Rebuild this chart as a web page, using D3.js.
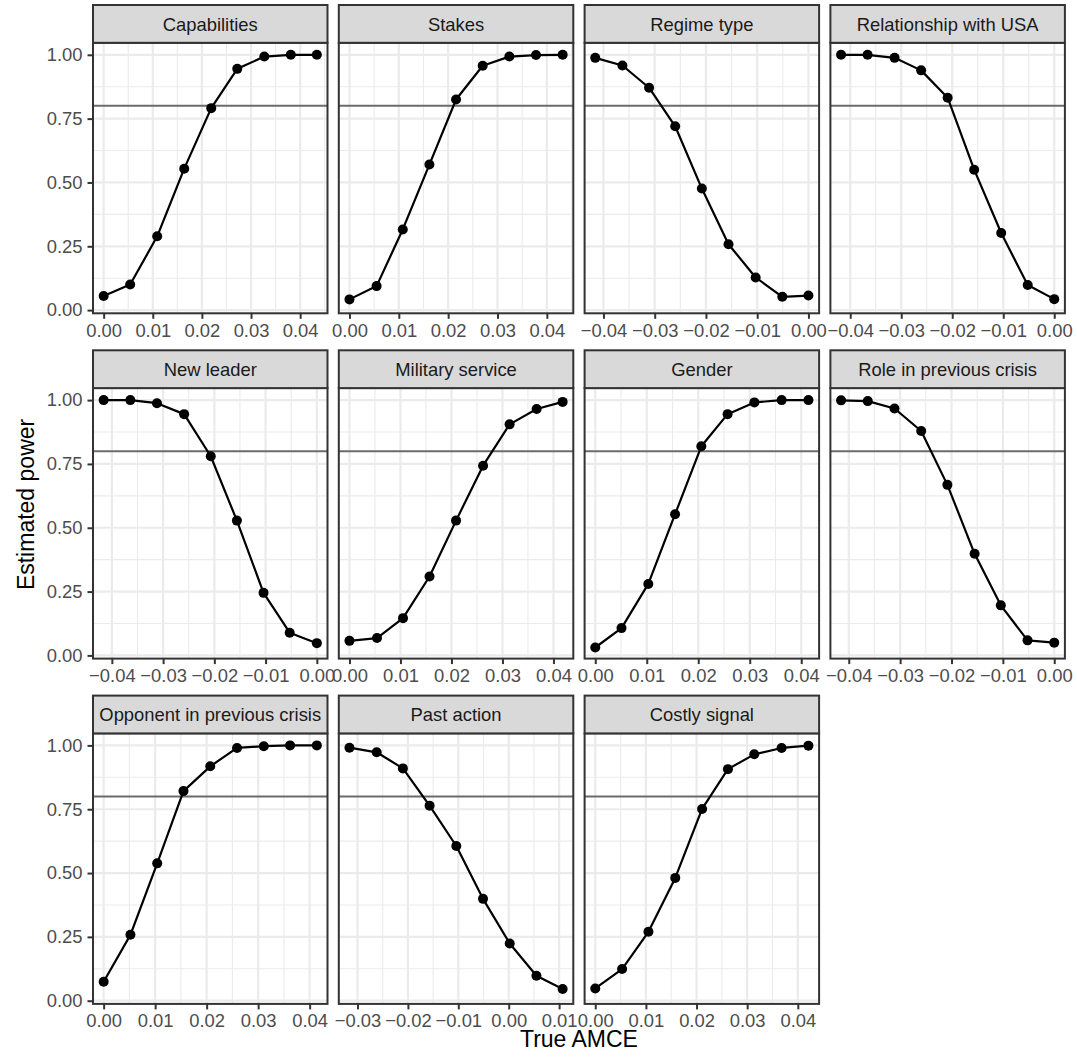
<!DOCTYPE html>
<html>
<head>
<meta charset="utf-8">
<script src="https://cdn.jsdelivr.net/npm/d3@7"></script>
<style>
  html, body { margin: 0; padding: 0; background: #ffffff; }
  svg { display: block; font-family: "Liberation Sans", Arial, Helvetica, sans-serif; }
</style>
</head>
<body>
<svg id="chart" width="1077" height="1063"></svg>
<script>
// Facet titles, in reading order
const facets = [
  "Capabilities", "Stakes", "Regime type", "Relationship with USA",
  "New leader", "Military service", "Gender", "Role in previous crisis",
  "Opponent in previous crisis", "Past action", "Costly signal"
];

// True AMCE (x) per facet
const amceCapabilities = [0, 0.0054, 0.0109, 0.0164, 0.0219, 0.0272, 0.0327, 0.0381, 0.0434];
const amceStakes       = [0, 0.0055, 0.0108, 0.0162, 0.0216, 0.0270, 0.0324, 0.0378, 0.0432];
const amceRegime       = [-0.0416, -0.0363, -0.0311, -0.0260, -0.0208, -0.0156, -0.0103, -0.0051, 0];
const amceRelation     = [-0.0418, -0.0366, -0.0313, -0.0261, -0.0209, -0.0157, -0.0104, -0.0052, 0];
const amceNewLeader    = [-0.0416, -0.0364, -0.0312, -0.0259, -0.0207, -0.0156, -0.0104, -0.0053, 0];
const amceMilitary     = [0, 0.0054, 0.0105, 0.0157, 0.0209, 0.0262, 0.0314, 0.0367, 0.0418];
const amceGender       = [0, 0.0051, 0.0103, 0.0155, 0.0206, 0.0257, 0.0309, 0.0362, 0.0414];
const amceRole         = [-0.0415, -0.0363, -0.0311, -0.0259, -0.0208, -0.0155, -0.0104, -0.0052, 0];
const amceOpponent     = [0, 0.0052, 0.0104, 0.0155, 0.0207, 0.0259, 0.0311, 0.0362, 0.0414];
const amcePastAction   = [-0.0316, -0.0262, -0.0210, -0.0157, -0.0104, -0.0051, 0.0002, 0.0055, 0.0107];
const amceCostly       = [0, 0.0053, 0.0105, 0.0158, 0.0211, 0.0262, 0.0314, 0.0368, 0.0421];

// Estimated power (y) per facet
const powerCapabilities = [0.055, 0.100, 0.289, 0.554, 0.791, 0.945, 0.993, 1.000, 1.000];
const powerStakes       = [0.042, 0.094, 0.316, 0.570, 0.825, 0.957, 0.993, 0.999, 1.000];
const powerRegime       = [0.988, 0.958, 0.871, 0.720, 0.476, 0.258, 0.128, 0.052, 0.057];
const powerRelation     = [1.000, 1.000, 0.988, 0.939, 0.832, 0.550, 0.302, 0.098, 0.043];
const powerNewLeader    = [1.000, 1.000, 0.988, 0.945, 0.780, 0.528, 0.245, 0.089, 0.048];
const powerMilitary     = [0.057, 0.068, 0.146, 0.309, 0.528, 0.743, 0.905, 0.965, 0.993];
const powerGender       = [0.031, 0.107, 0.280, 0.553, 0.819, 0.945, 0.991, 1.000, 1.000];
const powerRole         = [0.999, 0.996, 0.967, 0.879, 0.668, 0.398, 0.196, 0.059, 0.050];
const powerOpponent     = [0.074, 0.258, 0.538, 0.821, 0.918, 0.990, 0.997, 1.000, 1.000];
const powerPastAction   = [0.991, 0.973, 0.910, 0.764, 0.606, 0.399, 0.224, 0.098, 0.046];
const powerCostly       = [0.048, 0.124, 0.270, 0.481, 0.751, 0.907, 0.965, 0.990, 0.999];

const xSeries = [amceCapabilities, amceStakes, amceRegime, amceRelation, amceNewLeader,
  amceMilitary, amceGender, amceRole, amceOpponent, amcePastAction, amceCostly];
const ySeries = [powerCapabilities, powerStakes, powerRegime, powerRelation, powerNewLeader,
  powerMilitary, powerGender, powerRole, powerOpponent, powerPastAction, powerCostly];

// Axis ticks
const yTicks = [0, 0.25, 0.5, 0.75, 1.0];
const yMinorTicks = [0.125, 0.375, 0.625, 0.875];
const powerThreshold = 0.8;
const xLabel = "True AMCE";
const yLabel = "Estimated power";

// Layout
const nCols = 4;
const left0 = 93, panelW = 234.5, colGap = 11.3;
const top0 = 5, rowStep = 345.3, stripH = 37.8, panelH = 270.5;
const tickLen = 5.5;
const tickFont = 18.4, stripFont = 18.4, titleFont = 23;

const svg = d3.select("#chart");
const fmt = d3.format(".2f");

facets.forEach((name, i) => {
  const col = i % nCols, row = Math.floor(i / nCols);
  const px = left0 + col * (panelW + colGap);
  const stripY = top0 + row * rowStep;
  const py = stripY + stripH;

  const xs = xSeries[i], ys = ySeries[i];
  const [xmin, xmax] = d3.extent(xs);
  const pad = (xmax - xmin) * 0.05;
  const x = d3.scaleLinear().domain([xmin - pad, xmax + pad]).range([px, px + panelW]);
  const y = d3.scaleLinear().domain([-0.0125, 1.047]).range([py + panelH, py]);

  const g = svg.append("g");

  // panel background
  g.append("rect").attr("x", px).attr("y", py).attr("width", panelW).attr("height", panelH)
    .attr("fill", "#ffffff");

  const clip = "clip" + i;
  svg.append("clipPath").attr("id", clip).append("rect")
    .attr("x", px).attr("y", py).attr("width", panelW).attr("height", panelH);
  const inner = g.append("g").attr("clip-path", `url(#${clip})`);

  // x ticks at 0.01 spacing, minor in between
  const xMajor = x.ticks(5).filter(t => Math.abs(Math.round(t * 100) - t * 100) < 1e-9);
  const step = 0.01;
  const xMinor = d3.range(Math.floor(x.domain()[0] / step) * step - step / 2,
                          x.domain()[1] + step, step)
    .filter(v => v >= x.domain()[0] && v <= x.domain()[1]);

  // minor grid
  inner.selectAll(".ymin").data(yMinorTicks).join("line")
    .attr("x1", px).attr("x2", px + panelW)
    .attr("y1", d => y(d)).attr("y2", d => y(d))
    .attr("stroke", "#EBEBEB").attr("stroke-width", 1.1);
  inner.selectAll(".xmin").data(xMinor).join("line")
    .attr("x1", d => x(d)).attr("x2", d => x(d))
    .attr("y1", py).attr("y2", py + panelH)
    .attr("stroke", "#EBEBEB").attr("stroke-width", 1.1);
  // major grid
  inner.selectAll(".ymaj").data(yTicks).join("line")
    .attr("x1", px).attr("x2", px + panelW)
    .attr("y1", d => y(d)).attr("y2", d => y(d))
    .attr("stroke", "#EBEBEB").attr("stroke-width", 2.2);
  inner.selectAll(".xmaj").data(xMajor).join("line")
    .attr("x1", d => x(d)).attr("x2", d => x(d))
    .attr("y1", py).attr("y2", py + panelH)
    .attr("stroke", "#EBEBEB").attr("stroke-width", 2.2);

  // 80% power reference line
  inner.append("line")
    .attr("x1", px).attr("x2", px + panelW)
    .attr("y1", y(powerThreshold)).attr("y2", y(powerThreshold))
    .attr("stroke", "#6B6B6B").attr("stroke-width", 2);

  // power curve
  const pts = xs.map((v, k) => [v, ys[k]]);
  inner.append("path")
    .attr("d", d3.line().x(d => x(d[0])).y(d => y(d[1]))(pts))
    .attr("fill", "none").attr("stroke", "#000").attr("stroke-width", 2.2)
    .attr("stroke-linejoin", "round");
  inner.selectAll(".pt").data(pts).join("circle")
    .attr("cx", d => x(d[0])).attr("cy", d => y(d[1])).attr("r", 5)
    .attr("fill", "#000");

  // panel border
  g.append("rect").attr("x", px).attr("y", py).attr("width", panelW).attr("height", panelH)
    .attr("fill", "none").attr("stroke", "#333333").attr("stroke-width", 2);

  // strip
  g.append("rect").attr("x", px).attr("y", stripY).attr("width", panelW).attr("height", stripH)
    .attr("fill", "#D9D9D9").attr("stroke", "#333333").attr("stroke-width", 2);
  g.append("text").attr("x", px + panelW / 2).attr("y", stripY + stripH / 2 + 6.6)
    .attr("text-anchor", "middle").attr("font-size", stripFont).attr("fill", "#1A1A1A")
    .text(name);

  // x axis
  const xAxis = g.append("g").attr("transform", `translate(0,${py + panelH})`)
    .call(d3.axisBottom(x).tickValues(xMajor).tickFormat(fmt).tickSize(tickLen).tickPadding(5));
  xAxis.select(".domain").remove();
  xAxis.selectAll("line").attr("stroke", "#333333").attr("stroke-width", 2);
  xAxis.selectAll("text").attr("font-size", tickFont).attr("fill", "#4D4D4D")
    .attr("font-family", "Liberation Sans, Arial, sans-serif");

  // y axis only on the first column
  if (col === 0) {
    const yAxis = g.append("g").attr("transform", `translate(${px},0)`)
      .call(d3.axisLeft(y).tickValues(yTicks).tickFormat(fmt).tickSize(tickLen).tickPadding(5));
    yAxis.select(".domain").remove();
    yAxis.selectAll("line").attr("stroke", "#333333").attr("stroke-width", 2);
    yAxis.selectAll("text").attr("font-size", tickFont).attr("fill", "#4D4D4D")
      .attr("font-family", "Liberation Sans, Arial, sans-serif");
  }
});

// axis titles
const panelsLeft = left0, panelsRight = left0 + nCols * panelW + (nCols - 1) * colGap;
svg.append("text")
  .attr("x", (panelsLeft + panelsRight) / 2).attr("y", 1047)
  .attr("text-anchor", "middle").attr("font-size", titleFont).attr("fill", "#000")
  .text(xLabel);
const yMid = (top0 + top0 + 2 * rowStep + stripH + panelH) / 2;
svg.append("text")
  .attr("transform", `translate(34,${yMid}) rotate(-90)`)
  .attr("text-anchor", "middle").attr("font-size", titleFont).attr("fill", "#000")
  .text(yLabel);
</script>
</body>
</html>
